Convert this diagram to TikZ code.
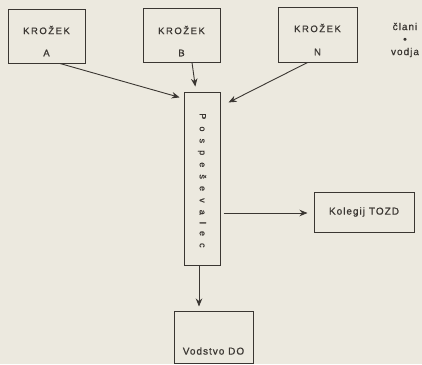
\documentclass[tikz,border=0pt]{standalone}
\usepackage{fontspec}
\setmainfont{Liberation Sans}
\usetikzlibrary{arrows.meta,calc}
\definecolor{paper}{HTML}{ECE9DF}
\definecolor{ink}{HTML}{3A3632}
\begin{document}
\begin{tikzpicture}[x=1pt,y=-1pt,
  box/.style={draw=ink, line width=1pt, inner sep=0pt},
  lbl/.style={text=ink, inner sep=0pt, font=\fontsize{9.5}{11}\selectfont\addfontfeature{LetterSpace=16,FakeBold=0.8}},
  small/.style={text=ink, inner sep=0pt, font=\fontsize{10}{12}\selectfont\addfontfeature{LetterSpace=10,FakeBold=0.8}},
  vert/.style={text=ink, inner sep=0pt, rotate=-90, font=\fontsize{9}{10}\selectfont\addfontfeature{LetterSpace=79,FakeBold=0.8}},
  side/.style={text=ink, inner sep=0pt, align=center, font=\fontsize{10}{12.5}\selectfont\addfontfeature{LetterSpace=10,FakeBold=0.8}},
  arr/.style={draw=ink, line width=0.9pt, -{Stealth[length=8pt,width=6.5pt]}}]
\fill[paper] (0,0) rectangle (422,364);
\useasboundingbox (0,0) rectangle (422,364);

% boxes
\node[box, minimum width=77pt, minimum height=54pt] (A) at (46.5,36) {};
\node[box, minimum width=77pt, minimum height=54pt] (B) at (181.5,35) {};
\node[box, minimum width=79pt, minimum height=55pt] (N) at (317.5,34.5) {};
\node[box, minimum width=36pt, minimum height=173pt] (P) at (202,178.5) {};
\node[box, minimum width=100pt, minimum height=40pt] (K) at (364,212) {};
\node[box, minimum width=79pt, minimum height=52pt] (V) at (213.5,337) {};

% texts
\node[lbl] (At) at ($(A.center)+(0,-6)$) {KROŽEK};
\node[lbl] (Al) at ($(A.center)+(0,17)$) {A};
\node[lbl] (Bt) at ($(B.center)+(0,-5)$) {KROŽEK};
\node[lbl] (Bl) at ($(B.center)+(0,18)$) {B};
\node[lbl] (Nt) at ($(N.center)+(0,-6.5)$) {KROŽEK};
\node[lbl] (Nl) at ($(N.center)+(0,17.5)$) {N};
\node[vert] (Pt) at ($(P.center)+(0,2)$) {Pospeševalec};
\node[small] (Kt) at (K.center) {Kolegij\hspace{4pt}TOZD};
\node[small] (Vt) at ($(V.center)+(0,14)$) {Vodstvo DO};
\node[side] (S) at (405,40) {člani\\•\\vodja};

% connectors
\draw[arr, shorten >=4pt] ($(A.south)+(13.5,0)$) -- ($(P.north west)+(0,7)$);
\draw[arr, shorten >=5pt] ($(B.south)+(10.5,0)$) -- ($(P.north)+(-6,0)$);
\draw[arr, shorten >=9pt] ($(N.south)+(-10,0)$) -- ($(P.north east)+(0,15)$);
\draw[arr, shorten <=3pt, shorten >=6pt] ($(P.east)+(0,34.5)$) coordinate (k0) -- (k0 -| K.west);
\draw[arr, shorten >=4pt] ($(P.south)+(-3,0)$) coordinate (v0) -- (v0 |- V.north);
\end{tikzpicture}
\end{document}
